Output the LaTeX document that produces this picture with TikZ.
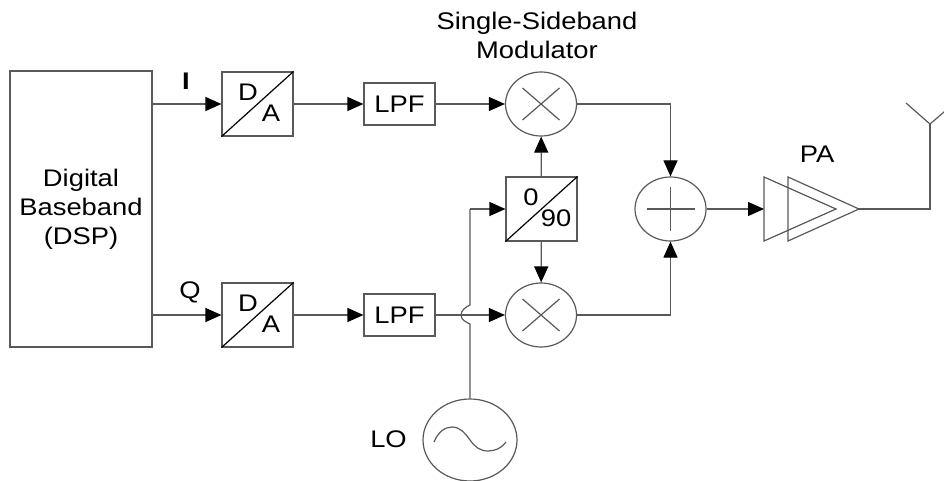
\documentclass[tikz,border=0pt]{standalone}
\usepackage{fontspec}
\setmainfont[FakeStretch=1.14]{Liberation Sans}
\usetikzlibrary{arrows.meta,shapes.geometric}
\tikzset{
  ln/.style={draw=black!65,line width=1.2pt},
  arr/.style={ln,-{Triangle[black,length=16pt,width=14pt]}},
  boxn/.style={draw=black!65,line width=1.2pt,fill=white,inner sep=0pt,minimum width=71pt,minimum height=64pt},
  lpfn/.style={draw=black!65,line width=1.2pt,inner sep=0pt,minimum width=71pt,minimum height=42pt,font=\fontsize{24}{24}\selectfont},
  circn/.style={draw=black!65,line width=1.2pt,ellipse,inner sep=0pt,minimum width=71pt,minimum height=64pt},
  txt/.style={inner sep=0pt,font=\fontsize{24}{29}\selectfont,align=center}
}
\begin{document}
\begin{tikzpicture}[x=1pt,y=-1pt]
\useasboundingbox (0,0) rectangle (944,481);
\node[draw=black!65,line width=1.2pt,minimum width=142pt,minimum height=276pt,inner sep=0pt,txt] (dsp) at (81,209) {Digital\\Baseband\\(DSP)};
\node[boxn] (da1) at (257.5,104) {};
\node[boxn] (da2) at (257.5,315) {};
\node[lpfn] (lpf1) at (399.5,104) {LPF};
\node[lpfn] (lpf2) at (399.5,315) {LPF};
\node[circn] (m1) at (541,104) {};
\node[circn] (m2) at (541,315) {};
\node[boxn] (ph) at (541.5,209) {};
\node[circn] (sum) at (670.5,209) {};
\node[draw=black!65,line width=1.2pt,ellipse,inner sep=0pt,minimum width=94pt,minimum height=82pt] (lo) at (470,440) {};
% box diagonals
\foreach \b in {da1,da2,ph}{\draw[black,line width=1.2pt] (\b.south west) -- (\b.north east);}
\foreach \b in {da1,da2}{
  \node[txt] (dl\b) at ([shift={(-9.5,-12)}]\b.center) {D};
  \node[txt] (al\b) at ([shift={(13.5,9)}]\b.center) {A};
}
\node[txt] (zero) at (531,197) {0};
\node[txt] (ninety) at (556,218) {90};
% mixer marks
\foreach \m in {m1,m2}{
  \draw[ln] ([shift={(-18.5,-16)}]\m.center) -- ([shift={(18.5,16)}]\m.center);
  \draw[ln] ([shift={(-18.5,16)}]\m.center) -- ([shift={(18.5,-16)}]\m.center);
}
\draw[ln] ([shift={(-24,0)}]sum.center) -- ([shift={(24,0)}]sum.center);
\draw[ln] ([shift={(0,-22)}]sum.center) -- ([shift={(0,22)}]sum.center);
% oscillator
\draw[ln] (434,442) .. controls (438,432) and (445,427) .. (452,427) .. controls (460,427) and (465,433) .. (470,440) .. controls (475,447) and (480,451) .. (488,451) .. controls (495,451) and (502,448) .. (506,442);
% connectors
\coordinate (i1) at (dsp.east |- da1);
\coordinate (i2) at (dsp.east |- da2);
\draw[arr] (i1) -- (da1);
\draw[arr] (i2) -- (da2);
\draw[arr] (da1) -- (lpf1);
\draw[arr] (da2) -- (lpf2);
\draw[arr] (lpf1) -- (m1);
\draw[arr] (lpf2) -- (m2);
\draw[arr] (ph) -- (m1);
\draw[arr] (ph) -- (m2);
\coordinate (h1) at (470,305);
\coordinate (h2) at (470,324);
\coordinate (corner) at (470,209);
\draw[ln] (lo.north) -- (h2) .. controls (466,322) and (461,320) .. (461,315) .. controls (461,310) and (466,307) .. (h1) -- (corner);
\draw[arr] (corner) -- (ph);
\draw[arr] (m1.east) -| (sum.north);
\draw[arr] (m2.east) -| (sum.south);
% PA
\coordinate (pa1a) at (764,177);
\coordinate (pa1b) at (764,241);
\coordinate (pa1c) at (836,209);
\coordinate (pa2a) at (788,177);
\coordinate (pa2b) at (788,241);
\coordinate (pa2c) at (859,209);
\draw[ln] (pa1a) -- (pa1b) -- (pa1c) -- cycle;
\draw[ln] (pa2a) -- (pa2b) -- (pa2c) -- cycle;
\draw[arr] (sum.east) -- (pa1a |- sum);
\coordinate (ant) at (930,124);
\coordinate (antl) at (906,103);
\coordinate (antr) at (951,106);
\draw[ln] (pa2c) -| (ant);
\draw[ln] (antl) -- (ant) -- (antr);
% labels
\node[txt,font=\fontsize{24}{24}\selectfont\bfseries] (il) at (186,81) {I};
\node[txt] (ql) at (190,292) {Q};
\node[txt] (lol) at (388.5,439) {LO};
\node[txt] (pal) at (817,154) {PA};
\node[txt] (ssb) at (537,35) {Single-Sideband\\Modulator};
\end{tikzpicture}
\end{document}
